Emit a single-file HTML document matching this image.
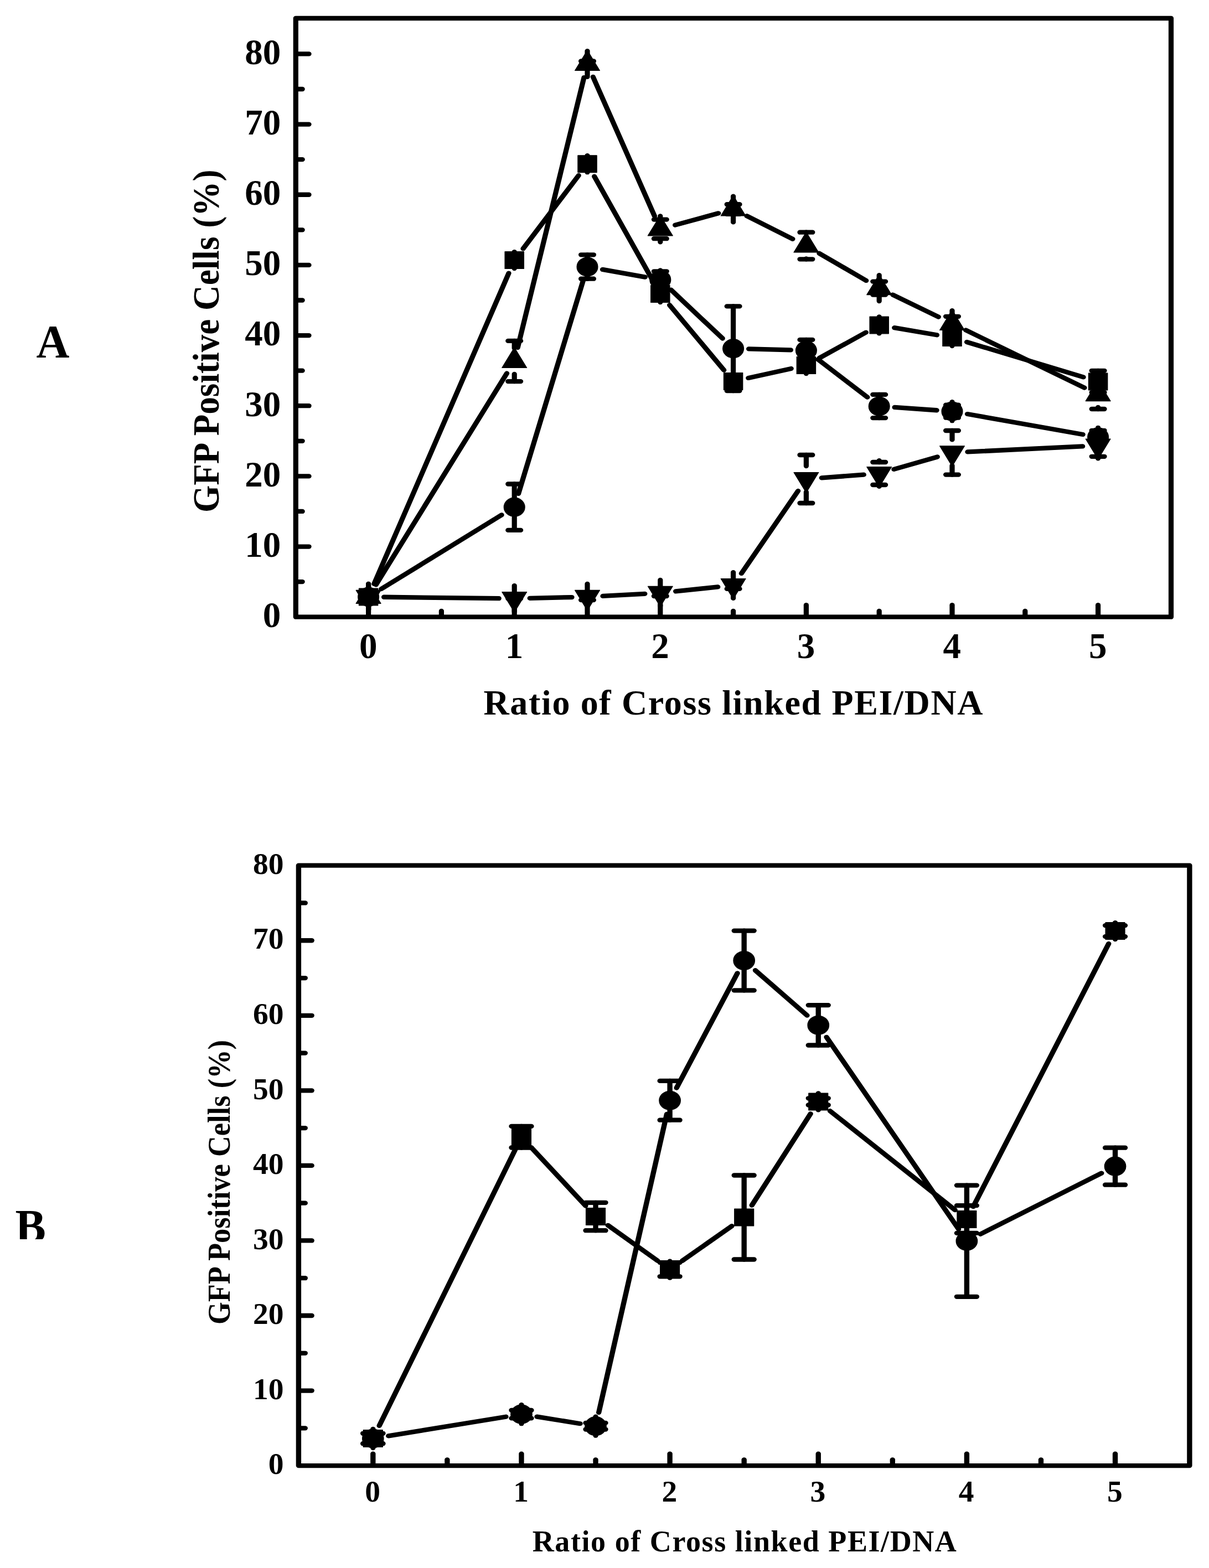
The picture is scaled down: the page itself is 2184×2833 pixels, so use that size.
<!DOCTYPE html>
<html lang="en">
<head>
<meta charset="utf-8">
<title>GFP Positive Cells vs Ratio of Cross linked PEI/DNA</title>
<style>
html,body{margin:0;padding:0;background:#fff;}
body{width:2184px;height:2833px;overflow:hidden;}
svg{display:block;}
text{font-family:"Liberation Serif", "DejaVu Serif", serif;font-weight:bold;fill:#000;}
.m{fill:#000;stroke:#000;stroke-width:1.2;stroke-linejoin:round;}
</style>
</head>
<body>
<svg width="2184" height="2833" viewBox="0 0 2184 2833">
<rect width="2184" height="2833" fill="#fff"/>
<!-- Panel A -->
<g transform="scale(1.11,1)" stroke="#000" stroke-width="8.3" stroke-linecap="round" stroke-linejoin="round" fill="none">
<path d="M481.35 33H1905.86V1114.7H481.35Z" fill="none"/>
<path d="M599.64 1113.7L599.64 1093.2"/>
<path d="M837.12 1113.7L837.12 1093.2"/>
<path d="M1074.59 1113.7L1074.59 1093.2"/>
<path d="M1312.07 1113.7L1312.07 1093.2"/>
<path d="M1549.55 1113.7L1549.55 1093.2"/>
<path d="M1787.03 1113.7L1787.03 1093.2"/>
<path d="M718.38 1113.7L718.38 1103.95"/>
<path d="M955.86 1113.7L955.86 1103.95"/>
<path d="M1193.33 1113.7L1193.33 1103.95"/>
<path d="M1430.81 1113.7L1430.81 1103.95"/>
<path d="M1668.29 1113.7L1668.29 1103.95"/>
<path d="M482.25 987.54L502.75 987.54"/>
<path d="M482.25 860.38L502.75 860.38"/>
<path d="M482.25 733.22L502.75 733.22"/>
<path d="M482.25 606.06L502.75 606.06"/>
<path d="M482.25 478.9L502.75 478.9"/>
<path d="M482.25 351.74L502.75 351.74"/>
<path d="M482.25 224.58L502.75 224.58"/>
<path d="M482.25 97.42L502.75 97.42"/>
<path d="M482.25 1051.12L492.05 1051.12"/>
<path d="M482.25 923.96L492.05 923.96"/>
<path d="M482.25 796.8L492.05 796.8"/>
<path d="M482.25 669.64L492.05 669.64"/>
<path d="M482.25 542.48L492.05 542.48"/>
<path d="M482.25 415.32L492.05 415.32"/>
<path d="M482.25 288.16L492.05 288.16"/>
<path d="M482.25 161L492.05 161"/>
<path d="M608.8 1054.93L827.95 493.57"/>
<path d="M851.33 449.29L941.65 317.01"/>
<path d="M967.23 318.69L1063.22 508.51"/>
<path d="M1089.74 551.14L1178.19 668.76"/>
<path d="M1217.82 682.94L1287.59 665.96"/>
<path d="M1333.57 646.85L1409.31 600.55"/>
<path d="M1455.57 592.11L1524.79 605.29"/>
<path d="M1573.45 617.99L1763.13 681.41"/>
<path d="M599.64 1063.4V1093.4"/>
<path d="M589.34 1074.4H609.94M589.34 1082.4H609.94"/>
<path d="M837.12 455.1V485.1"/>
<path d="M826.82 466.1H847.42M826.82 474.1H847.42"/>
<path d="M955.86 281.2V311.2"/>
<path d="M945.56 292.2H966.16M945.56 300.2H966.16"/>
<path d="M1074.59 516V546"/>
<path d="M1064.29 527H1084.89M1064.29 535H1084.89"/>
<path d="M1193.33 673.9V703.9"/>
<path d="M1183.03 684.9H1203.63M1183.03 692.9H1203.63"/>
<path d="M1312.07 645V675"/>
<path d="M1301.77 656H1322.37M1301.77 664H1322.37"/>
<path d="M1430.81 572.4V602.4"/>
<path d="M1420.51 583.4H1441.11M1420.51 591.4H1441.11"/>
<path d="M1549.55 595V625"/>
<path d="M1539.25 606H1559.85M1539.25 614H1559.85"/>
<path d="M1787.03 669.8V709"/>
<path d="M1776.73 669.8H1797.33M1776.73 709H1797.33"/>
<rect class="m" x="584.24" y="1063" width="30.8" height="30.8"/>
<rect class="m" x="821.72" y="454.7" width="30.8" height="30.8"/>
<rect class="m" x="940.46" y="280.8" width="30.8" height="30.8"/>
<rect class="m" x="1059.19" y="515.6" width="30.8" height="30.8"/>
<rect class="m" x="1177.93" y="673.5" width="30.8" height="30.8"/>
<rect class="m" x="1296.67" y="644.6" width="30.8" height="30.8"/>
<rect class="m" x="1415.41" y="572" width="30.8" height="30.8"/>
<rect class="m" x="1534.15" y="594.6" width="30.8" height="30.8"/>
<rect class="m" x="1771.63" y="674" width="30.8" height="30.8"/>
<path d="M620.45 1064.19L816.31 930.41"/>
<path d="M843.76 891.89L949.21 506.31"/>
<path d="M980.58 486.89L1049.87 500.61"/>
<path d="M1092.01 523.72L1175.92 611.48"/>
<path d="M1218.52 630.42L1286.88 632.38"/>
<path d="M1331.28 649.42L1411.61 717.68"/>
<path d="M1455.94 735.95L1524.42 741.25"/>
<path d="M1574.28 748.05L1762.3 784.95"/>
<path d="M599.64 1061.4V1095.4"/>
<path d="M589.34 1074.4H609.94M589.34 1082.4H609.94"/>
<path d="M837.12 874.5V957.9"/>
<path d="M826.82 874.5H847.42M826.82 957.9H847.42"/>
<path d="M955.86 460.3V503.7"/>
<path d="M945.56 460.3H966.16M945.56 503.7H966.16"/>
<path d="M1074.59 488.5V522.5"/>
<path d="M1064.29 490.3H1084.89M1064.29 520.7H1084.89"/>
<path d="M1193.33 553.4V706"/>
<path d="M1183.03 553.4H1203.63M1183.03 706H1203.63"/>
<path d="M1312.07 613.9V652.3"/>
<path d="M1301.77 613.9H1322.37M1301.77 652.3H1322.37"/>
<path d="M1430.81 712.9V755.1"/>
<path d="M1420.51 712.9H1441.11M1420.51 755.1H1441.11"/>
<path d="M1549.55 726.2V760.2"/>
<path d="M1539.25 731.7H1559.85M1539.25 754.7H1559.85"/>
<path d="M1787.03 772.8V806.8"/>
<path d="M1776.73 777.8H1797.33M1776.73 801.8H1797.33"/>
<circle class="m" cx="599.64" cy="1078.4" r="17"/>
<circle class="m" cx="837.12" cy="916.2" r="17"/>
<circle class="m" cx="955.86" cy="482" r="17"/>
<circle class="m" cx="1074.59" cy="505.5" r="17"/>
<circle class="m" cx="1193.33" cy="629.7" r="17"/>
<circle class="m" cx="1312.07" cy="633.1" r="17"/>
<circle class="m" cx="1430.81" cy="734" r="17"/>
<circle class="m" cx="1549.55" cy="743.2" r="17"/>
<circle class="m" cx="1787.03" cy="789.8" r="17"/>
<path d="M611.91 1056.39L824.84 674.51"/>
<path d="M842.56 627.89L950.42 140.11"/>
<path d="M965.17 138.91L1065.28 390.49"/>
<path d="M1098.72 406.61L1169.21 385.29"/>
<path d="M1215.36 390.24L1290.05 431.76"/>
<path d="M1333.25 457.66L1409.63 506.94"/>
<path d="M1453 532.54L1527.36 572.56"/>
<path d="M1571.73 596.46L1764.85 700.64"/>
<path d="M599.64 1055V1074.4M599.64 1082.4V1101.8"/>
<path d="M589.34 1074.4H609.94M589.34 1082.4H609.94"/>
<path d="M837.12 615.9V629.1M837.12 675.9V689.1"/>
<path d="M826.82 615.9H847.42M826.82 689.1H847.42"/>
<path d="M955.86 92.1V110.5M955.86 120.5V138.9"/>
<path d="M945.56 110.5H966.16M945.56 120.5H966.16"/>
<path d="M1074.59 390.5V396.6M1074.59 431.2V437.3"/>
<path d="M1064.29 396.6H1084.89M1064.29 431.2H1084.89"/>
<path d="M1193.33 354.6V369.2M1193.33 386.8V401.4"/>
<path d="M1183.03 369.2H1203.63M1183.03 386.8H1203.63"/>
<path d="M1312.07 419.7V420.6M1312.07 467.4V468.3"/>
<path d="M1301.77 419.7H1322.37M1301.77 468.3H1322.37"/>
<path d="M1430.81 497.2V508.6M1430.81 532.6V544"/>
<path d="M1420.51 508.6H1441.11M1420.51 532.6H1441.11"/>
<path d="M1549.55 561.1V571.8M1549.55 597.2V607.9"/>
<path d="M1539.25 571.8H1559.85M1539.25 597.2H1559.85"/>
<path d="M1787.03 686.2V689.2M1787.03 736V739"/>
<path d="M1776.73 686.2H1797.33M1776.73 739H1797.33"/>
<path class="m" d="M599.64 1053.8L619.79 1090.4H579.49Z"/>
<path class="m" d="M837.12 627.9L857.27 664.5H816.97Z"/>
<path class="m" d="M955.86 90.9L976.01 127.5H935.71Z"/>
<path class="m" d="M1074.59 389.3L1094.74 425.9H1054.44Z"/>
<path class="m" d="M1193.33 353.4L1213.48 390H1173.18Z"/>
<path class="m" d="M1312.07 419.4L1332.22 456H1291.92Z"/>
<path class="m" d="M1430.81 496L1450.96 532.6H1410.66Z"/>
<path class="m" d="M1549.55 559.9L1569.7 596.5H1529.4Z"/>
<path class="m" d="M1787.03 688L1807.18 724.6H1766.88Z"/>
<path d="M624.84 1078.73L811.92 1081.17"/>
<path d="M862.31 1080.84L930.66 1079.06"/>
<path d="M981.01 1076.9L1049.44 1072.8"/>
<path d="M1099.63 1068.39L1168.3 1060.41"/>
<path d="M1206.59 1036.07L1298.82 886.93"/>
<path d="M1337.18 863.39L1405.7 857.61"/>
<path d="M1454.83 847.87L1525.53 825.43"/>
<path d="M1574.71 816.44L1761.86 806.36"/>
<path d="M599.64 1055V1074.4M599.64 1082.4V1101.8"/>
<path d="M589.34 1074.4H609.94M589.34 1082.4H609.94"/>
<path d="M837.12 1058.1V1104.9"/>
<path d="M826.82 1081.5H847.42M826.82 1081.5H847.42"/>
<path d="M955.86 1055V1072.7M955.86 1084.1V1101.8"/>
<path d="M945.56 1072.7H966.16M945.56 1084.1H966.16"/>
<path d="M1074.59 1047.9V1065.6M1074.59 1077V1094.7"/>
<path d="M1064.29 1065.6H1084.89M1064.29 1077H1084.89"/>
<path d="M1193.33 1034.1V1051.1M1193.33 1063.9V1080.9"/>
<path d="M1183.03 1051.1H1203.63M1183.03 1063.9H1203.63"/>
<path d="M1312.07 822V842.1M1312.07 888.9V909"/>
<path d="M1301.77 822H1322.37M1301.77 909H1322.37"/>
<path d="M1430.81 832.1V835M1430.81 876V878.9"/>
<path d="M1420.51 835H1441.11M1420.51 876H1441.11"/>
<path d="M1549.55 778V794.4M1549.55 841.2V857.6"/>
<path d="M1539.25 778H1559.85M1539.25 857.6H1559.85"/>
<path d="M1787.03 781.6V785.2M1787.03 824.8V828.4"/>
<path d="M1776.73 785.2H1797.33M1776.73 824.8H1797.33"/>
<path class="m" d="M599.64 1103L619.79 1066.4H579.49Z"/>
<path class="m" d="M837.12 1106.1L857.27 1069.5H816.97Z"/>
<path class="m" d="M955.86 1103L976.01 1066.4H935.71Z"/>
<path class="m" d="M1074.59 1095.9L1094.74 1059.3H1054.44Z"/>
<path class="m" d="M1193.33 1082.1L1213.48 1045.5H1173.18Z"/>
<path class="m" d="M1312.07 890.1L1332.22 853.5H1291.92Z"/>
<path class="m" d="M1430.81 880.1L1450.96 843.5H1410.66Z"/>
<path class="m" d="M1549.55 842.4L1569.7 805.8H1529.4Z"/>
<path class="m" d="M1787.03 829.6L1807.18 793H1766.88Z"/>
</g>
<!-- Panel B -->
<g transform="scale(1.13,1)" stroke="#000" stroke-width="8.3" stroke-linecap="round" stroke-linejoin="round" fill="none">
<path d="M477.35 1563.7H1901.68V2648.1H477.35Z" fill="none"/>
<path d="M596.28 2647.1L596.28 2626.6"/>
<path d="M833.58 2647.1L833.58 2626.6"/>
<path d="M1070.88 2647.1L1070.88 2626.6"/>
<path d="M1308.19 2647.1L1308.19 2626.6"/>
<path d="M1545.49 2647.1L1545.49 2626.6"/>
<path d="M1782.79 2647.1L1782.79 2626.6"/>
<path d="M714.93 2647.1L714.93 2637.35"/>
<path d="M952.23 2647.1L952.23 2637.35"/>
<path d="M1189.54 2647.1L1189.54 2637.35"/>
<path d="M1426.84 2647.1L1426.84 2637.35"/>
<path d="M1664.14 2647.1L1664.14 2637.35"/>
<path d="M478.23 2512.55L498.37 2512.55"/>
<path d="M478.23 2377L498.37 2377"/>
<path d="M478.23 2241.45L498.37 2241.45"/>
<path d="M478.23 2105.9L498.37 2105.9"/>
<path d="M478.23 1970.35L498.37 1970.35"/>
<path d="M478.23 1834.8L498.37 1834.8"/>
<path d="M478.23 1699.25L498.37 1699.25"/>
<path d="M478.23 2580.32L487.86 2580.32"/>
<path d="M478.23 2444.78L487.86 2444.78"/>
<path d="M478.23 2309.22L487.86 2309.22"/>
<path d="M478.23 2173.67L487.86 2173.67"/>
<path d="M478.23 2038.12L487.86 2038.12"/>
<path d="M478.23 1902.57L487.86 1902.57"/>
<path d="M478.23 1767.03L487.86 1767.03"/>
<path d="M478.23 1631.47L487.86 1631.47"/>
<path d="M606.35 2575.9L823.52 2077.3"/>
<path d="M849.62 2073.64L936.2 2178.56"/>
<path d="M971.85 2213.82L1051.27 2277.88"/>
<path d="M1090.62 2278.03L1169.8 2215.17"/>
<path d="M1201.97 2177.58L1295.75 2012.32"/>
<path d="M1326.95 2007.22L1526.72 2186.18"/>
<path d="M1555.93 2180.07L1772.34 1705.03"/>
<path d="M596.28 2584V2614"/>
<path d="M580.38 2589.8H612.18M580.38 2608.2H612.18"/>
<path d="M833.58 2034.9V2073.5"/>
<path d="M817.68 2034.9H849.48M817.68 2073.5H849.48"/>
<path d="M952.23 2172.8V2223.2"/>
<path d="M936.33 2172.8H968.13M936.33 2223.2H968.13"/>
<path d="M1070.88 2278.7V2308.7"/>
<path d="M1054.98 2281.1H1086.78M1054.98 2306.3H1086.78"/>
<path d="M1189.54 2123.5V2275.5"/>
<path d="M1173.64 2123.5H1205.44M1173.64 2275.5H1205.44"/>
<path d="M1308.19 1975.4V2005.4"/>
<path d="M1292.29 1984.3H1324.09M1292.29 1996.5H1324.09"/>
<path d="M1545.49 2178.1V2227.9"/>
<path d="M1529.59 2178.1H1561.39M1529.59 2227.9H1561.39"/>
<path d="M1782.79 1667.1V1697.1"/>
<path d="M1766.89 1672.1H1798.69M1766.89 1692.1H1798.69"/>
<rect class="m" x="580.88" y="2583.6" width="30.8" height="30.8"/>
<rect class="m" x="818.18" y="2038.8" width="30.8" height="30.8"/>
<rect class="m" x="936.83" y="2182.6" width="30.8" height="30.8"/>
<rect class="m" x="1055.48" y="2278.3" width="30.8" height="30.8"/>
<rect class="m" x="1174.14" y="2184.1" width="30.8" height="30.8"/>
<rect class="m" x="1292.79" y="1975" width="30.8" height="30.8"/>
<rect class="m" x="1530.09" y="2187.6" width="30.8" height="30.8"/>
<rect class="m" x="1767.39" y="1666.7" width="30.8" height="30.8"/>
<path d="M621.06 2594.43L808.8 2559.77"/>
<path d="M858.38 2559.69L927.44 2572.21"/>
<path d="M957.22 2552L1065.9 2013"/>
<path d="M1081.59 1965.49L1178.83 1758.31"/>
<path d="M1207.49 1753.18L1290.23 1834.62"/>
<path d="M1321.29 1873.83L1532.39 2220.67"/>
<path d="M1567.39 2229.74L1760.88 2119.66"/>
<path d="M596.28 2582V2616"/>
<path d="M580.38 2589.8H612.18M580.38 2608.2H612.18"/>
<path d="M833.58 2538.2V2572.2"/>
<path d="M817.68 2548H849.48M817.68 2562.4H849.48"/>
<path d="M952.23 2559.7V2593.7"/>
<path d="M936.33 2570.9H968.13M936.33 2582.5H968.13"/>
<path d="M1070.88 1952.9V2023.7"/>
<path d="M1054.98 1952.9H1086.78M1054.98 2023.7H1086.78"/>
<path d="M1189.54 1681.6V1789.4"/>
<path d="M1173.64 1681.6H1205.44M1173.64 1789.4H1205.44"/>
<path d="M1308.19 1816.1V1888.5"/>
<path d="M1292.29 1816.1H1324.09M1292.29 1888.5H1324.09"/>
<path d="M1545.49 2141.6V2342.8"/>
<path d="M1529.59 2141.6H1561.39M1529.59 2342.8H1561.39"/>
<path d="M1782.79 2073.7V2140.7"/>
<path d="M1766.89 2073.7H1798.69M1766.89 2140.7H1798.69"/>
<circle class="m" cx="596.28" cy="2599" r="17"/>
<circle class="m" cx="833.58" cy="2555.2" r="17"/>
<circle class="m" cx="952.23" cy="2576.7" r="17"/>
<circle class="m" cx="1070.88" cy="1988.3" r="17"/>
<circle class="m" cx="1189.54" cy="1735.5" r="17"/>
<circle class="m" cx="1308.19" cy="1852.3" r="17"/>
<circle class="m" cx="1545.49" cy="2242.2" r="17"/>
<circle class="m" cx="1782.79" cy="2107.2" r="17"/>
</g>
<!-- Labels -->
<text x="507.2" y="1133" font-size="65" text-anchor="end">0</text>
<text x="507.2" y="1005.84" font-size="65" text-anchor="end">10</text>
<text x="507.2" y="878.68" font-size="65" text-anchor="end">20</text>
<text x="507.2" y="751.52" font-size="65" text-anchor="end">30</text>
<text x="507.2" y="624.36" font-size="65" text-anchor="end">40</text>
<text x="507.2" y="497.2" font-size="65" text-anchor="end">50</text>
<text x="507.2" y="370.04" font-size="65" text-anchor="end">60</text>
<text x="507.2" y="242.88" font-size="65" text-anchor="end">70</text>
<text x="507.2" y="115.72" font-size="65" text-anchor="end">80</text>
<text x="665.3" y="1188.5" font-size="65" text-anchor="middle">0</text>
<text x="928.9" y="1188.5" font-size="65" text-anchor="middle">1</text>
<text x="1192.5" y="1188.5" font-size="65" text-anchor="middle">2</text>
<text x="1456.1" y="1188.5" font-size="65" text-anchor="middle">3</text>
<text x="1719.7" y="1188.5" font-size="65" text-anchor="middle">4</text>
<text x="1983.3" y="1188.5" font-size="65" text-anchor="middle">5</text>
<text x="873.5" y="1290.6" font-size="64" text-anchor="start" textLength="902" lengthAdjust="spacing">Ratio of Cross linked PEI/DNA</text>
<text transform="translate(394.9,926) rotate(-90) scale(0.9875,1.06)" font-size="64" textLength="627.4" lengthAdjust="spacing">GFP Positive Cells (%)</text>
<g><text transform="translate(65.5,645.8) scale(1,1.025)" font-size="83">A</text></g>
<text x="512.6" y="2663.3" font-size="55.5" text-anchor="end">0</text>
<text x="512.6" y="2527.75" font-size="55.5" text-anchor="end">10</text>
<text x="512.6" y="2392.2" font-size="55.5" text-anchor="end">20</text>
<text x="512.6" y="2256.65" font-size="55.5" text-anchor="end">30</text>
<text x="512.6" y="2121.1" font-size="55.5" text-anchor="end">40</text>
<text x="512.6" y="1985.55" font-size="55.5" text-anchor="end">50</text>
<text x="512.6" y="1850" font-size="55.5" text-anchor="end">60</text>
<text x="512.6" y="1714.45" font-size="55.5" text-anchor="end">70</text>
<text x="512.6" y="1578.9" font-size="55.5" text-anchor="end">80</text>
<text x="673" y="2713.4" font-size="55.5" text-anchor="middle">0</text>
<text x="941.15" y="2713.4" font-size="55.5" text-anchor="middle">1</text>
<text x="1209.3" y="2713.4" font-size="55.5" text-anchor="middle">2</text>
<text x="1477.45" y="2713.4" font-size="55.5" text-anchor="middle">3</text>
<text x="1745.6" y="2713.4" font-size="55.5" text-anchor="middle">4</text>
<text x="2013.75" y="2713.4" font-size="55.5" text-anchor="middle">5</text>
<text x="961.8" y="2802.5" font-size="54" text-anchor="start" textLength="766" lengthAdjust="spacing">Ratio of Cross linked PEI/DNA</text>
<text transform="translate(415.3,2393) rotate(-90) scale(0.971,1.06)" font-size="54" textLength="529.4" lengthAdjust="spacing">GFP Positive Cells (%)</text>
<clipPath id="clipB"><rect x="0" y="2039" width="400" height="200"/></clipPath>
<g clip-path="url(#clipB)"><text transform="translate(27.5,2245) scale(1,1.045)" font-size="83">B</text></g>
</svg>
</body>
</html>
